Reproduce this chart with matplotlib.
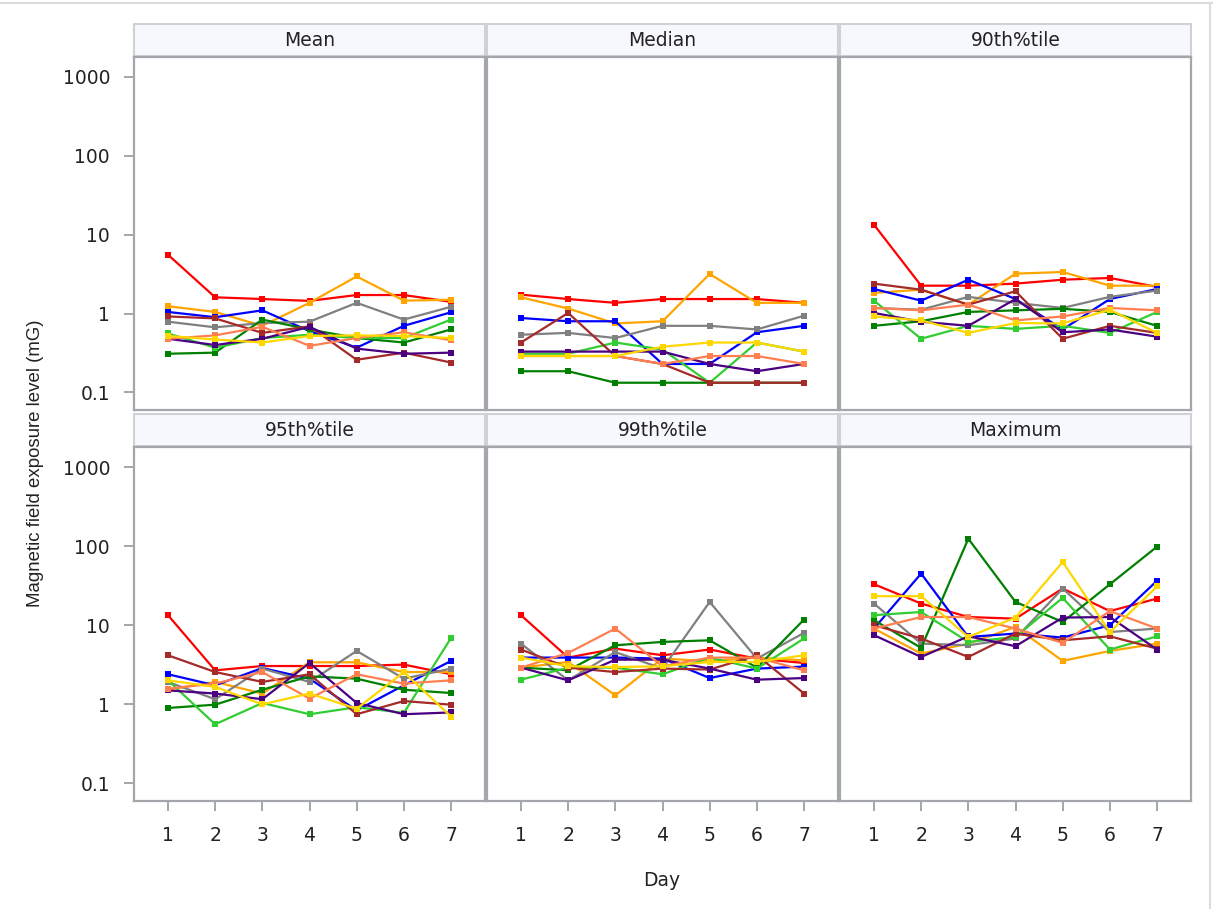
import matplotlib
matplotlib.use("Agg")
import matplotlib.pyplot as plt
from matplotlib.ticker import FixedLocator, NullLocator

plt.rcParams['font.family'] = ['DejaVu Sans']

days = [1, 2, 3, 4, 5, 6, 7]
panels = ["Mean", "Median", "90th%tile", "95th%tile", "99th%tile", "Maximum"]
series_names = ["red", "orange", "blue", "gray", "darkgreen", "lime", "brown", "purple", "salmon", "gold"]
series_colors = ["#FF0000", "#FFA500", "#0000FF", "#808080", "#008000", "#32CD32", "#A52A2A", "#4B0082", "#FF7F50", "#FFD700"]

mean_vals = {
    "red":       [5.58, 1.61, 1.53, 1.45, 1.72, 1.72, 1.41],
    "orange":    [1.24, 1.05, 0.70, 1.37, 2.96, 1.46, 1.50],
    "blue":      [1.05, 0.90, 1.10, 0.60, 0.37, 0.70, 1.04],
    "gray":      [0.79, 0.67, 0.76, 0.79, 1.37, 0.84, 1.22],
    "darkgreen": [0.31, 0.32, 0.84, 0.63, 0.49, 0.43, 0.63],
    "lime":      [0.56, 0.37, 0.49, 0.54, 0.49, 0.49, 0.84],
    "brown":     [0.92, 0.87, 0.57, 0.69, 0.26, 0.32, 0.24],
    "purple":    [0.48, 0.40, 0.48, 0.68, 0.36, 0.31, 0.32],
    "salmon":    [0.48, 0.53, 0.68, 0.39, 0.49, 0.58, 0.46],
    "gold":      [0.52, 0.47, 0.43, 0.52, 0.53, 0.52, 0.49],
}
median_vals = {
    "red":       [1.74, 1.53, 1.37, 1.53, 1.53, 1.53, 1.37],
    "orange":    [1.61, 1.16, 0.75, 0.80, 3.18, 1.37, 1.37],
    "blue":      [0.88, 0.80, 0.80, 0.23, 0.23, 0.58, 0.70],
    "gray":      [0.54, 0.57, 0.49, 0.70, 0.70, 0.63, 0.94],
    "darkgreen": [0.186, 0.186, 0.133, 0.133, 0.133, 0.133, 0.133],
    "lime":      [0.31, 0.31, 0.43, 0.35, 0.133, 0.43, 0.33],
    "brown":     [0.43, 1.02, 0.29, 0.23, 0.133, 0.133, 0.133],
    "purple":    [0.33, 0.33, 0.33, 0.33, 0.23, 0.186, 0.23],
    "salmon":    [0.29, 0.29, 0.29, 0.23, 0.29, 0.29, 0.23],
    "gold":      [0.29, 0.29, 0.29, 0.38, 0.43, 0.43, 0.33],
}
p90_vals = {
    "red":       [13.4, 2.26, 2.26, 2.40, 2.69, 2.83, 2.18],
    "orange":    [1.83, 2.01, 1.30, 3.21, 3.37, 2.26, 2.26],
    "blue":      [2.05, 1.46, 2.69, 1.53, 0.63, 1.53, 2.05],
    "gray":      [1.18, 1.12, 1.63, 1.37, 1.18, 1.63, 1.96],
    "darkgreen": [0.70, 0.80, 1.05, 1.10, 1.15, 1.05, 0.70],
    "lime":      [1.46, 0.48, 0.70, 0.64, 0.70, 0.57, 1.05],
    "brown":     [2.40, 2.01, 1.30, 1.92, 0.48, 0.70, 0.57],
    "purple":    [1.02, 0.79, 0.70, 1.53, 0.58, 0.63, 0.51],
    "salmon":    [1.18, 1.10, 1.30, 0.82, 0.92, 1.18, 1.10],
    "gold":      [0.92, 0.82, 0.57, 0.76, 0.75, 1.12, 0.57],
}
p95_vals = {
    "red":       [13.4, 2.69, 3.05, 3.05, 3.05, 3.18, 2.40],
    "orange":    [1.53, 1.92, 1.37, 3.40, 3.40, 2.56, 2.56],
    "blue":      [2.40, 1.74, 2.88, 2.11, 0.84, 1.74, 3.54],
    "gray":      [1.92, 1.16, 2.83, 1.92, 4.73, 2.11, 2.83],
    "darkgreen": [0.90, 0.99, 1.53, 2.26, 2.11, 1.53, 1.39],
    "lime":      [2.01, 0.56, 1.04, 0.75, 0.92, 0.78, 6.90],
    "brown":     [4.17, 2.56, 1.92, 2.40, 0.75, 1.10, 0.99],
    "purple":    [1.50, 1.37, 1.16, 3.33, 1.04, 0.75, 0.79],
    "salmon":    [1.58, 1.83, 2.56, 1.18, 2.40, 1.83, 2.01],
    "gold":      [2.01, 1.66, 1.00, 1.37, 0.88, 2.56, 0.70],
}
p99_vals = {
    "red":       [13.4, 3.90, 5.06, 4.17, 4.93, 3.79, 3.33],
    "orange":    [2.91, 3.43, 1.30, 3.79, 3.50, 3.90, 3.60],
    "blue":      [3.90, 3.90, 3.90, 3.79, 2.15, 2.83, 3.00],
    "gray":      [5.86, 2.01, 4.58, 2.83, 19.7, 3.79, 7.99],
    "darkgreen": [2.91, 2.69, 5.58, 6.15, 6.45, 2.91, 11.8],
    "lime":      [2.05, 2.91, 2.91, 2.40, 3.90, 2.83, 6.80],
    "brown":     [4.93, 2.91, 2.56, 2.83, 2.75, 4.17, 1.37],
    "purple":    [2.91, 2.01, 3.67, 3.67, 2.83, 2.05, 2.15],
    "salmon":    [2.91, 4.46, 9.08, 3.03, 3.90, 3.90, 2.69],
    "gold":      [3.90, 3.03, 2.96, 3.03, 3.43, 3.43, 4.17],
}
max_vals = {
    "red":       [33.0, 18.8, 12.7, 12.1, 29.1, 15.1, 21.7],
    "orange":    [9.08, 4.38, 5.86, 9.50, 3.54, 4.73, 5.86],
    "blue":      [9.08, 45.0, 7.10, 7.85, 6.98, 10.0, 36.5],
    "gray":      [18.8, 5.86, 5.58, 6.80, 29.1, 8.20, 9.08],
    "darkgreen": [11.6, 5.17, 124.0, 19.7, 11.0, 32.9, 98.5],
    "lime":      [13.4, 14.7, 6.15, 7.10, 22.2, 4.93, 7.24],
    "brown":     [10.0, 6.80, 3.97, 7.85, 6.45, 7.24, 5.06],
    "purple":    [7.50, 3.97, 7.24, 5.43, 12.5, 12.7, 4.93],
    "salmon":    [9.08, 12.7, 12.7, 9.08, 5.97, 15.1, 9.08],
    "gold":      [23.3, 23.3, 7.10, 12.5, 63.0, 8.20, 30.9],
}
panel_data = [mean_vals, median_vals, p90_vals, p95_vals, p99_vals, max_vals]

y_ticks = [0.1, 1, 10, 100, 1000]
y_ticklabels = ["0.1", "1", "10", "100", "1000"]

W, H = 1213, 909
fig = plt.figure(figsize=(W / 100, H / 100), dpi=100)
fig.patch.set_facecolor("white")

# outer light frame (top and right edges)
fig.add_artist(plt.Line2D([0, 1], [1 - 3 / H, 1 - 3 / H], transform=fig.transFigure, color="#DADCDE", lw=1.5))
fig.add_artist(plt.Line2D([1 - 3 / W, 1 - 3 / W], [0, 1 - 3 / H], transform=fig.transFigure, color="#DADCDE", lw=1.5))

spine_col = "#A3A7AB"
txt_col = "#222222"
col_left = [134, 487, 840]
col_w = 351
row_strip = [(24, 56), (414, 446)]
row_plot = [(57, 410), (447, 801)]

def fx(px):
    return px / W

def fy(py):
    return 1 - py / H

for i, (name, data) in enumerate(zip(panels, panel_data)):
    r, c = divmod(i, 3)
    x0 = col_left[c]
    # strip
    st, sb = row_strip[r]
    sax = fig.add_axes([fx(x0), fy(sb), col_w / W, (sb - st) / H])
    sax.set_facecolor("#F7F8FE")
    sax.set_xticks([])
    sax.set_yticks([])
    for s in sax.spines.values():
        s.set_color("#CFD1D4")
        s.set_linewidth(1.5)
    sax.text(0.5, 0.5, name, ha="center", va="center", fontsize=13.5, color=txt_col,
             transform=sax.transAxes)
    # plot
    pt, pb = row_plot[r]
    ax = fig.add_axes([fx(x0), fy(pb), col_w / W, (pb - pt) / H])
    for sname, scol in zip(series_names, series_colors):
        ax.plot(days, data[sname], color=scol, lw=1.6, marker="s", markersize=4.2,
                markeredgewidth=0, zorder=3)
    ax.set_yscale("log")
    ax.set_ylim(0.06, 1790)
    ax.set_xlim(0.28, 7.72)
    ax.yaxis.set_major_locator(FixedLocator(y_ticks))
    ax.yaxis.set_minor_locator(NullLocator())
    ax.set_xticks(days)
    for s in ax.spines.values():
        s.set_color(spine_col)
        s.set_linewidth(1.6)
    ax.tick_params(axis="both", colors=spine_col, length=7.2, width=1.4, labelsize=13.5,
                   labelcolor=txt_col)
    ax.tick_params(axis="y", pad=10)
    ax.tick_params(axis="x", pad=11)
    if c == 0:
        ax.set_yticklabels(y_ticklabels)
    else:
        ax.tick_params(axis="y", left=False, labelleft=False)
    if r == 1:
        ax.set_xticklabels([str(d) for d in days])
    else:
        ax.tick_params(axis="x", bottom=False, labelbottom=False)

fig.text(fx(36), fy(463), "Magnetic field exposure level (mG)", rotation=90, ha="center", va="center",
         fontsize=13.4, color=txt_col, family="Liberation Sans")
fig.text(fx(662), fy(880), "Day", ha="center", va="center", fontsize=13.5, color=txt_col)

fig.savefig("out.png", dpi=100, facecolor="white")
